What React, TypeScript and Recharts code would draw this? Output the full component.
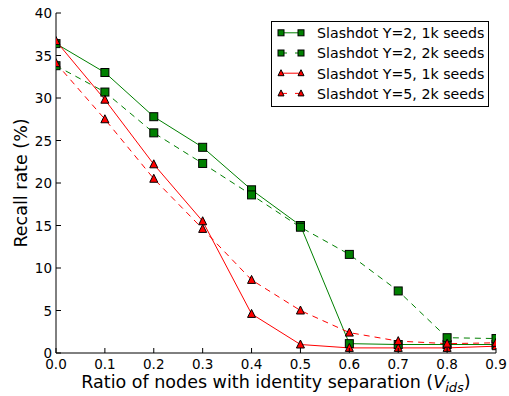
import React from 'react';
import { LineChart, Line, XAxis, YAxis, Legend } from 'recharts';

const ratios = [0.0, 0.1, 0.2, 0.3, 0.4, 0.5, 0.6, 0.7, 0.8, 0.9];
const y2k1 = [36.4, 33.0, 27.8, 24.2, 19.2, 15.0, 1.1, 1.0, 1.0, 1.0];
const y2k2 = [33.8, 30.7, 25.9, 22.3, 18.6, 14.8, 11.6, 7.3, 1.8, 1.7];
const y5k1 = [36.7, 29.8, 22.2, 15.5, 4.6, 1.0, 0.6, 0.6, 0.6, 0.8];
const y5k2 = [34.1, 27.5, 20.5, 14.6, 8.6, 5.0, 2.4, 1.4, 1.1, 1.2];
const xTicks = [0, 0.1, 0.2, 0.3, 0.4, 0.5, 0.6, 0.7, 0.8, 0.9];
const yTicks = [0, 5, 10, 15, 20, 25, 30, 35, 40];

const seriesDefs = [
  { key: 'y2k1', name: 'Slashdot Y=2, 1k seeds', color: '#008000', marker: 'square', dash: undefined },
  { key: 'y2k2', name: 'Slashdot Y=2, 2k seeds', color: '#008000', marker: 'square', dash: '6 5' },
  { key: 'y5k1', name: 'Slashdot Y=5, 1k seeds', color: '#ff0000', marker: 'triangle', dash: undefined },
  { key: 'y5k2', name: 'Slashdot Y=5, 2k seeds', color: '#ff0000', marker: 'triangle', dash: '6 5' },
];

const data = ratios.map((r, i) => ({ x: r, y2k1: y2k1[i], y2k2: y2k2[i], y5k1: y5k1[i], y5k2: y5k2[i] }));

const W = 509;
const H = 396;
const PL = 56;
const PR = 496;
const PT = 13;
const PB = 353;
const FONT = 'DejaVu Sans, sans-serif';

function Marker({ cx, cy, type, color, size }: any) {
  if (cx == null || cy == null) return null;
  if (type === 'square') {
    const h = size / 2;
    return <rect x={cx - h} y={cy - h} width={size} height={size} fill={color} stroke="#000" strokeWidth={1} />;
  }
  const h = size / 2;
  const pts = `${cx},${cy - h - 0.5} ${cx - h},${cy + h - 0.5} ${cx + h},${cy + h - 0.5}`;
  return <polygon points={pts} fill={color} stroke="#000" strokeWidth={1} strokeLinejoin="miter" />;
}

const BottomTick = (props: any) => {
  const c = props.payload.coordinate;
  return (
    <g>
      <line x1={c} x2={c} y1={PB} y2={PB - 5} stroke="#000" strokeWidth={1} />
      <text x={c} y={369} textAnchor="middle" fontSize={13.5} fontFamily={FONT} fill="#000">
        {Number(props.payload.value).toFixed(1)}
      </text>
    </g>
  );
};
const TopTick = (props: any) => {
  const c = props.payload.coordinate;
  return <line x1={c} x2={c} y1={PT} y2={PT + 5} stroke="#000" strokeWidth={1} />;
};
const LeftTick = (props: any) => {
  const c = props.payload.coordinate;
  return (
    <g>
      <line x1={PL} x2={PL + 5} y1={c} y2={c} stroke="#000" strokeWidth={1} />
      <text x={52} y={c + 5} textAnchor="end" fontSize={13.5} fontFamily={FONT} fill="#000">
        {props.payload.value}
      </text>
    </g>
  );
};
const RightTick = (props: any) => {
  const c = props.payload.coordinate;
  return <line x1={PR} x2={PR - 5} y1={c} y2={c} stroke="#000" strokeWidth={1} />;
};

const LegendBox = () => {
  return (
    <div
      style={{
        width: 218,
        height: 86,
        border: '1px solid #000',
        background: '#fff',
        boxSizing: 'border-box',
      }}
    >
      <svg width={216} height={84} style={{ display: 'block', overflow: 'visible' }}>
        {seriesDefs.map((s, i) => {
          const cy = 10.8 + 20.2 * i;
          return (
            <g key={s.key}>
              <line x1={9} x2={29} y1={cy} y2={cy} stroke={s.color} strokeWidth={1} strokeDasharray={s.dash ? '6 8' : undefined} />
              <Marker cx={9} cy={cy} type={s.marker} color={s.color} size={6} />
              <Marker cx={29} cy={cy} type={s.marker} color={s.color} size={6} />
              <text x={45} y={cy + 5.3} fontSize={14.2} fontFamily={FONT} fill="#000">
                {s.name}
              </text>
            </g>
          );
        })}
      </svg>
    </div>
  );
};

export default function App() {
  return (
    <div style={{ position: 'absolute', left: 0, top: 0, width: W, height: H, background: '#fff' }}>
      <LineChart width={W} height={H} data={data} margin={{ top: PT, right: W - PR, left: 0, bottom: 0 }}>
        <XAxis
          dataKey="x"
          type="number"
          domain={[0, 0.9]}
          ticks={xTicks}
          interval={0}
          height={H - PB}
          axisLine={{ stroke: '#000', strokeWidth: 1 }}
          tickLine={false}
          tick={BottomTick}
          allowDataOverflow
          label={() => (
            <text x={(PL + PR) / 2} y={388} textAnchor="middle" fontSize={17.5} fontFamily={FONT} fill="#000">
              Ratio of nodes with identity separation (
              <tspan fontStyle="italic">V</tspan>
              <tspan fontStyle="italic" fontSize={13} dy={4}>ids</tspan>
              <tspan dy={-4}>)</tspan>
            </text>
          )}
        />
        <XAxis
          xAxisId="top"
          dataKey="x"
          type="number"
          orientation="top"
          domain={[0, 0.9]}
          ticks={xTicks}
          interval={0}
          height={0}
          axisLine={{ stroke: '#000', strokeWidth: 1 }}
          tickLine={false}
          tick={TopTick}
          allowDataOverflow
        />
        <YAxis
          type="number"
          domain={[0, 40]}
          ticks={yTicks}
          interval={0}
          width={PL}
          axisLine={{ stroke: '#000', strokeWidth: 1 }}
          tickLine={false}
          tick={LeftTick}
          allowDataOverflow
          label={() => (
            <text
              x={0}
              y={0}
              transform={`translate(27, ${(PT + PB) / 2}) rotate(-90)`}
              textAnchor="middle"
              fontSize={17.5}
              fontFamily={FONT}
              fill="#000"
            >
              Recall rate (%)
            </text>
          )}
        />
        <YAxis
          yAxisId="right"
          orientation="right"
          type="number"
          domain={[0, 40]}
          ticks={yTicks}
          interval={0}
          width={0}
          axisLine={{ stroke: '#000', strokeWidth: 1 }}
          tickLine={false}
          tick={RightTick}
          allowDataOverflow
        />
        {seriesDefs.map((s) => (
          <Line
            key={s.key}
            dataKey={s.key}
            name={s.name}
            type="linear"
            stroke={s.color}
            strokeWidth={1}
            strokeDasharray={s.dash}
            isAnimationActive={false}
            dot={(p: any) => <Marker key={`${s.key}-${p.index}`} cx={p.cx} cy={p.cy} type={s.marker} color={s.color} size={8} />}
            activeDot={false}
          />
        ))}
        <Legend
          layout="horizontal"
          verticalAlign="middle"
          align="center"
          content={LegendBox}
          wrapperStyle={{ position: 'absolute', left: 271, top: 21, width: 218, height: 86 }}
        />
      </LineChart>
    </div>
  );
}
